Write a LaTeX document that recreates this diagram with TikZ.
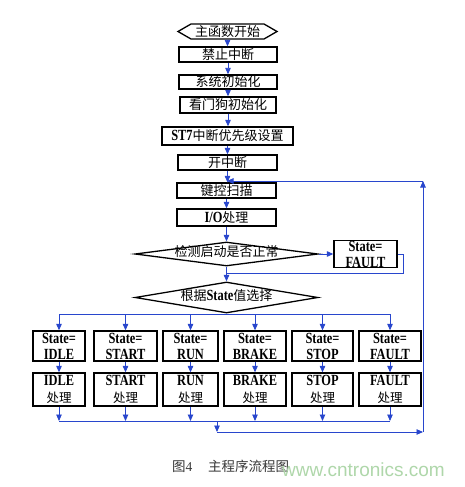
\documentclass[tikz,border=0pt]{standalone}
\usepackage{fontspec}
\setmainfont{Liberation Serif}
\newfontfamily\cjk{Noto Sans CJK SC}
\newfontfamily\lat[FakeStretch=0.8]{Liberation Serif}
\newfontfamily\wmfont{Liberation Sans}
\usetikzlibrary{shapes.geometric,shapes.symbols,arrows.meta}
\definecolor{flow}{RGB}{40,70,205}
\definecolor{wm}{RGB}{175,215,170}
\definecolor{capc}{RGB}{55,55,55}
\newcommand{\Lb}[1]{{\lat\bfseries\fontsize{15.5}{17}\selectfont #1}}
\newcommand{\Cj}[1]{{\cjk\mdseries\fontsize{12.5}{17}\selectfont #1}}
\begin{document}
\begin{tikzpicture}[x=1pt,y=-1pt,
  box/.style={draw=black, line width=1.3pt, rectangle, inner sep=0pt,
    font=\cjk\fontsize{13}{15}\selectfont, align=center},
  two/.style={box, font=\lat\bfseries\fontsize{15.5}{16}\selectfont, minimum height=30pt},
  twob/.style={box, font=\lat\bfseries\fontsize{15.5}{17}\selectfont, minimum height=33pt},
  dia/.style={draw=black, line width=1.3pt, diamond, inner sep=0pt,
    font=\cjk\fontsize{13}{15}\selectfont, text height=5pt, text depth=-5pt},
  hexa/.style={draw=black, line width=1.3pt, signal, signal to=west and east,
    signal pointer angle=60, inner sep=0pt, minimum width=99pt, minimum height=15pt,
    font=\cjk\fontsize{13}{15}\selectfont},
  line/.style={draw=flow, line width=0.9pt},
  arr/.style={line, -{Triangle[length=6.5pt,width=5.5pt]}, color=flow},
]
\fill[white] (0,0) rectangle (465,487);
\useasboundingbox (0,0) rectangle (465,487);

% main spine
\node[hexa] (s0) at (227.5,31.5) {主函数开始};
\node[box, minimum width=98pt, minimum height=15pt] (b1) at (228,54.5) {禁止中断};
\node[box, minimum width=98pt, minimum height=14pt] (b2) at (228,82) {系统初始化};
\node[box, minimum width=96pt, minimum height=16pt] (b3) at (228,105) {看门狗初始化};
\node[box, minimum width=131pt, minimum height=18pt] (b4) at (227.5,136) {\Lb{ST7}中断优先级设置};
\node[box, minimum width=99pt, minimum height=15pt] (b5) at (227.5,162.5) {开中断};
\node[box, minimum width=99pt, minimum height=15pt] (b6) at (226.5,190.5) {键控扫描};
\node[box, minimum width=99pt, minimum height=17pt] (b7) at (226.5,217.5) {\Lb{I/O}处理};
\node[dia, minimum width=183pt, minimum height=24pt] (d1) at (226.5,254) {\makebox[0pt]{检测启动是否正常}};
\node[two, minimum width=63pt, minimum height=26pt] (f0) at (365.5,254) {State=\\FAULT};
\node[dia, minimum width=183pt, minimum height=31pt] (d2) at (226.5,297.5) {\makebox[0pt]{根据\Lb{State}值选择}};

% state rows
\node[two, minimum width=52pt] (r1a) at (59,346) {State=\\IDLE};
\node[two, minimum width=63pt] (r1b) at (125.5,346) {State=\\START};
\node[two, minimum width=55pt] (r1c) at (190.5,346) {State=\\RUN};
\node[two, minimum width=62pt] (r1d) at (255,346) {State=\\BRAKE};
\node[two, minimum width=61pt] (r1e) at (322.5,346) {State=\\STOP};
\node[two, minimum width=62pt] (r1f) at (390,346) {State=\\FAULT};

\node[twob, minimum width=52pt] (r2a) at (59,389.5) {IDLE\\\Cj{处理}};
\node[twob, minimum width=63pt] (r2b) at (125.5,389.5) {START\\\Cj{处理}};
\node[twob, minimum width=55pt] (r2c) at (190.5,389.5) {RUN\\\Cj{处理}};
\node[twob, minimum width=62pt] (r2d) at (255,389.5) {BRAKE\\\Cj{处理}};
\node[twob, minimum width=61pt] (r2e) at (322.5,389.5) {STOP\\\Cj{处理}};
\node[twob, minimum width=62pt] (r2f) at (390,389.5) {FAULT\\\Cj{处理}};

% coordinates
\coordinate (ret) at (226.5,273);
\coordinate (bus) at (226.5,314);
\coordinate (bb) at (217,421);
\coordinate (low) at (217,432);
\coordinate (lr) at (423,432);
\coordinate (ur) at (423,181);
\coordinate (join) at (227,181);

% spine connectors
\draw[arr] (s0.south) -- (s0.south |- b1.north);
\draw[arr] (b1.south) -- (b1.south |- b2.north);
\draw[arr] (b2.south) -- (b2.south |- b3.north);
\draw[arr] (b3.south) -- (b3.south |- b4.north);
\draw[arr] (b4.south) -- (b4.south |- b5.north);
\draw[arr] (b5.south) -- (b5.south |- b6.north);
\draw[arr] (b6.south) -- (b6.south |- b7.north);
\draw[arr] (b7.south) -- (b7.south |- d1.north);
\draw[arr] (d1.east) -- (f0.west);
\draw[line] (f0.east) -- ++(6,0) |- (ret);
\draw[arr] (d1.south) -- (d2.north);

% distribution bus
\foreach \c in {a,b,c,d,e,f}{
  \draw[arr] (d2.south) -- (bus) -| (r1\c.north);
  \draw[arr] (r1\c.south) -- (r2\c.north);
  \draw[arr] (r2\c.south) -- (r2\c.south |- bb);
}
\draw[line] (r2a.south |- bb) -- (r2f.south |- bb);

% loop back
\draw[arr] (bb) -- (low);
\draw[arr] (low) -- (lr);
\draw[arr] (lr) -- (ur);
\draw[arr] (ur) -- (join);

% caption
\node[anchor=base west, inner sep=0pt, text=capc, font=\cjk\fontsize{13.5}{15}\selectfont] (cap1) at (172,471) {图{\rmfamily 4}};
\node[anchor=base west, inner sep=0pt, text=capc, font=\cjk\fontsize{13.5}{15}\selectfont] (cap2) at (208,471) {主程序流程图};
\node[anchor=base west, inner sep=0pt, text=wm, font=\wmfont\fontsize{19}{19}\selectfont] (wmk) at (282,476) {www.cntronics.com};
\end{tikzpicture}
\end{document}
